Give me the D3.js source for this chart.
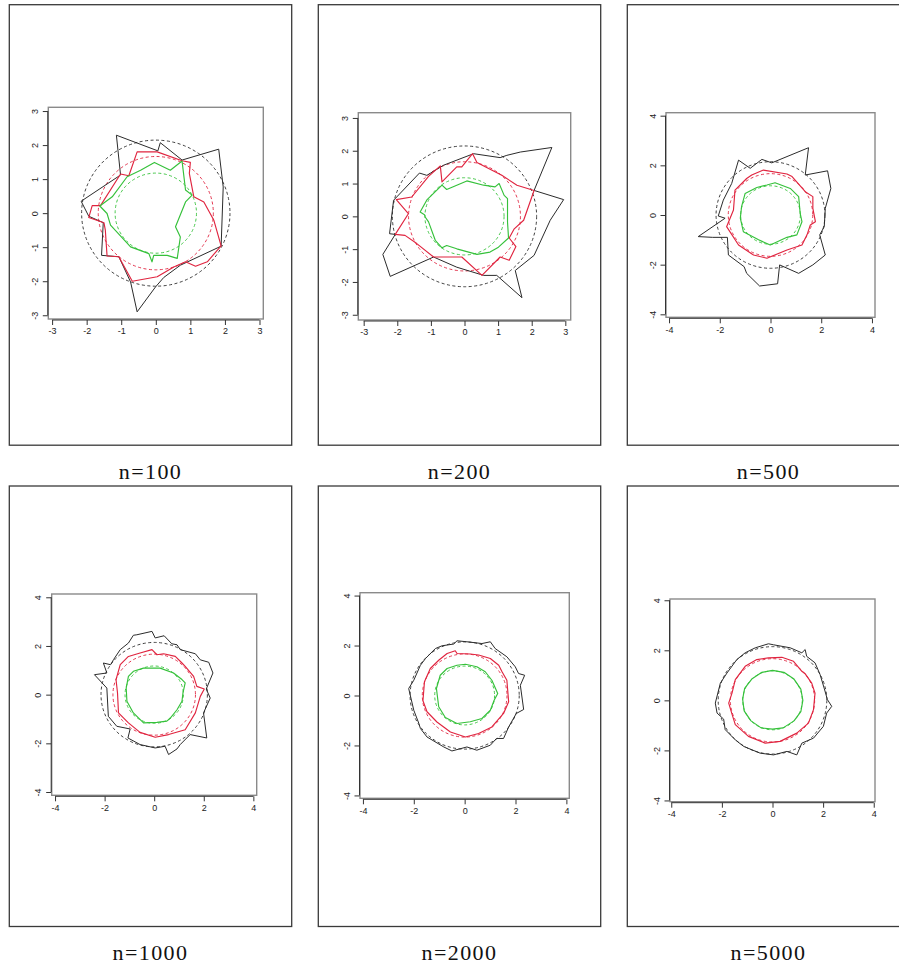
<!DOCTYPE html>
<html>
<head>
<meta charset="utf-8">
<script src="https://cdn.jsdelivr.net/npm/d3@7"></script>
<style>
  html, body { margin: 0; padding: 0; background: #fff; }
  svg { display: block; }
</style>
</head>
<body>
<svg id="chart" width="899" height="969"></svg>
<script>
// Sample sizes, one panel each
const sampleSizes = [100, 200, 500, 1000, 2000, 5000];

// Theoretical contour radii (black, red, green)
const circleRadii = [2.146, 1.665, 1.177];
const seriesColors = ["#2b2b2b", "#e0243f", "#35c13a"];

// Tick values
const ticks3 = [-3, -2, -1, 0, 1, 2, 3];
const ticks4 = [-4, -2, 0, 2, 4];

// Empirical contours, n = 100
const black100 = [[-1.14,2.29],[0.06,1.83],[0.13,2.07],[0.76,1.56],[1.82,1.88],[1.95,0.77],[1.89,-0.97],[0.71,-1.53],[0.23,-1.89],[-0.01,-2.17],[-0.54,-2.90],[-0.73,-2.02],[-1.07,-1.28],[-1.57,-1.24],[-1.52,-0.28],[-1.94,-0.09],[-2.16,0.35],[-1.02,1.12]];
const red100 = [[-0.54,1.80],[0.04,1.80],[0.76,1.54],[1.00,1.49],[0.97,1.17],[1.10,0.48],[1.39,0.33],[1.68,-0.21],[1.89,-0.96],[1.49,-1.43],[1.15,-1.56],[0.86,-1.43],[0.52,-1.58],[0.04,-1.87],[-0.68,-2.00],[-1.07,-1.28],[-1.41,-1.26],[-1.46,-0.50],[-1.50,-0.28],[-1.94,-0.13],[-1.84,0.22],[-1.60,0.22],[-1.02,1.15],[-0.78,1.10]];
const green100 = [[-0.04,1.49],[0.42,1.26],[0.76,1.53],[0.86,0.68],[1.05,0.53],[0.86,0.33],[0.57,-0.40],[0.71,-0.70],[0.62,-1.33],[0.33,-1.24],[-0.06,-1.24],[-0.11,-1.43],[-0.20,-1.19],[-0.73,-0.99],[-1.31,-0.35],[-1.41,-0.01],[-1.62,0.21],[-1.26,0.48],[-0.83,1.07],[-0.44,1.26]];

// n = 200
const black200 = [[2.60,2.10],[2.07,0.79],[2.95,0.51],[2.55,-0.12],[2.07,-1.19],[1.51,-1.65],[1.71,-2.48],[0.96,-1.80],[0.57,-1.80],[-0.23,-1.55],[-0.92,-1.24],[-2.21,-1.83],[-2.43,-1.16],[-2.06,-0.55],[-2.23,-0.53],[-2.11,0.49],[-1.34,1.32],[-1.12,1.25],[-0.62,1.56],[0.27,1.91],[1.06,1.79],[1.26,1.86],[1.66,1.96]];
const red200 = [[0.24,1.91],[0.37,1.64],[1.11,1.25],[1.56,0.95],[2.07,0.79],[1.76,-0.12],[1.48,-0.38],[1.33,-0.66],[1.53,-0.92],[1.33,-1.34],[1.06,-1.24],[0.52,-1.80],[-0.08,-1.24],[-0.53,-1.24],[-0.92,-1.24],[-1.42,-0.83],[-1.77,-0.58],[-2.06,-0.55],[-1.67,0.08],[-2.03,0.51],[-1.57,0.59],[-1.07,1.22],[-0.72,1.54],[-0.67,1.05],[-0.23,1.51],[-0.08,1.51]];
const green200 = [[-1.32,0.13],[-1.12,0.50],[-0.67,0.95],[-0.53,0.82],[0.07,1.08],[0.57,0.95],[0.91,0.90],[1.03,1.00],[1.18,0.64],[1.28,0.54],[1.28,-0.17],[1.31,-0.66],[1.01,-0.94],[0.76,-1.09],[0.37,-1.16],[-0.23,-0.99],[-0.53,-0.89],[-0.67,-0.96],[-0.87,-0.73],[-1.07,-0.17],[-1.17,-0.02],[-1.19,0.05]];

// n = 500
const black500 = [[1.50,2.71],[1.37,1.61],[2.25,1.78],[2.38,1.07],[2.16,0.27],[2.12,-0.47],[1.94,-0.80],[2.16,-1.61],[1.67,-2.01],[1.11,-2.35],[0.36,-2.01],[0.28,-2.77],[-0.43,-2.86],[-0.94,-2.35],[-1.04,-2.08],[-1.66,-1.61],[-1.70,-0.90],[-2.28,-0.90],[-2.85,-0.87],[-1.79,-0.13],[-2.06,-0.04],[-1.86,0.60],[-1.53,1.27],[-1.26,2.21],[-0.80,1.88],[-0.34,2.24],[0.05,2.10]];
const red500 = [[-0.28,1.81],[0.65,1.65],[0.85,1.55],[1.37,0.94],[1.67,0.74],[1.67,0.27],[1.77,-0.27],[1.57,-0.40],[1.44,-0.80],[1.24,-1.21],[0.65,-1.41],[-0.14,-1.74],[-0.67,-1.61],[-1.26,-1.21],[-1.73,-0.47],[-1.46,0.20],[-1.40,1.00],[-0.94,1.47],[-0.74,1.61]];
const green500 = [[0.18,1.30],[0.78,1.07],[1.11,0.74],[1.17,0.07],[1.24,-0.27],[1.04,-0.80],[0.65,-0.90],[-0.01,-1.21],[-0.47,-1.00],[-1.07,-0.67],[-1.19,-0.13],[-1.14,0.34],[-1.00,0.87],[-0.54,1.11],[-0.14,1.21]];

// n = 1000
const black1000 = [[-0.70,2.46],[-0.09,2.60],[0.04,2.33],[0.40,2.42],[0.71,2.09],[0.92,2.05],[1.05,1.85],[1.66,1.68],[1.86,1.43],[2.20,1.33],[2.37,0.89],[2.10,0.23],[2.26,-0.14],[1.99,-0.75],[2.12,-1.78],[1.45,-1.64],[1.05,-2.05],[0.92,-2.23],[0.58,-2.46],[0.44,-2.12],[0.04,-2.19],[-0.57,-2.05],[-1.06,-1.78],[-0.97,-1.41],[-1.51,-1.30],[-1.85,-0.89],[-1.91,0.27],[-2.41,0.82],[-1.91,0.89],[-2.05,1.30],[-1.76,1.23],[-1.64,1.44],[-1.37,1.85],[-1.04,2.12],[-0.84,2.44]];
const red1000 = [[-0.09,1.85],[0.11,1.64],[0.38,1.68],[0.85,1.57],[1.12,1.30],[1.25,1.16],[1.59,0.75],[1.72,0.34],[2.02,0.23],[1.86,-0.07],[1.66,-0.75],[1.25,-1.44],[0.58,-1.64],[0.04,-1.75],[-0.57,-1.55],[-1.04,-1.16],[-1.44,-0.75],[-1.48,0.07],[-1.54,0.62],[-1.37,1.23],[-1.04,1.57],[-0.57,1.71]];
const green1000 = [[-0.43,1.09],[0.24,1.09],[0.78,0.89],[1.12,0.62],[1.25,0.48],[1.16,0.07],[1.12,-0.27],[0.92,-0.62],[0.65,-0.96],[0.51,-1.09],[0.11,-1.14],[-0.43,-1.16],[-0.84,-0.75],[-1.10,-0.27],[-1.13,0.27],[-1.04,0.75],[-0.84,0.96]];

// n = 2000
const black2000 = [[-0.30,2.19],[0.09,2.15],[0.68,2.08],[1.01,2.15],[1.20,1.88],[1.66,1.55],[1.99,1.15],[2.12,0.88],[2.36,0.81],[2.19,0.41],[2.32,-0.56],[2.03,-0.72],[1.73,-1.26],[1.53,-1.72],[1.25,-1.72],[1.01,-1.99],[0.48,-2.19],[0.09,-2.06],[-0.50,-2.22],[-0.82,-2.06],[-1.48,-1.66],[-1.74,-1.32],[-1.80,-1.12],[-2.00,-0.59],[-2.20,0.28],[-2.00,0.61],[-1.74,1.21],[-1.54,1.48],[-1.15,1.88],[-0.89,1.99],[-0.43,2.06]];
const red2000 = [[-0.37,1.79],[-0.30,1.68],[0.22,1.66],[0.55,1.62],[1.01,1.48],[1.34,1.21],[1.47,0.95],[1.66,0.61],[1.73,-0.25],[1.53,-0.72],[1.07,-1.26],[0.55,-1.52],[0.03,-1.66],[-0.56,-1.46],[-1.09,-1.06],[-1.48,-0.65],[-1.64,-0.21],[-1.58,0.55],[-1.35,1.08],[-1.02,1.41],[-0.69,1.68]];
const green2000 = [[-0.30,1.21],[0.03,1.25],[0.48,1.15],[0.81,0.95],[1.07,0.61],[1.30,0.08],[1.16,-0.19],[1.01,-0.59],[0.68,-0.92],[0.22,-1.05],[-0.30,-1.12],[-0.76,-0.88],[-1.02,-0.45],[-1.11,0.28],[-0.96,0.81],[-0.69,1.08]];

// n = 5000
const black5000 = [[-0.16,2.26],[0.04,2.22],[0.70,2.10],[1.16,1.90],[1.29,2.03],[1.35,1.76],[1.68,1.50],[1.88,1.03],[2.04,0.49],[2.17,0.03],[2.34,-0.24],[2.14,-0.51],[2.01,-1.04],[1.62,-1.51],[1.16,-1.71],[0.96,-2.18],[0.57,-2.04],[0.04,-2.18],[-0.49,-2.11],[-1.14,-1.84],[-1.47,-1.58],[-1.87,-1.17],[-1.93,-0.75],[-2.19,-0.51],[-2.26,-0.11],[-2.06,0.69],[-1.80,1.09],[-1.41,1.63],[-1.08,1.90],[-0.68,2.10]];
const red5000 = [[-0.16,1.70],[0.37,1.72],[0.83,1.56],[1.16,1.16],[1.30,1.05],[1.55,0.69],[1.68,0.29],[1.62,-0.37],[1.42,-0.91],[0.96,-1.31],[0.30,-1.64],[-0.29,-1.71],[-0.95,-1.44],[-1.47,-0.97],[-1.60,-0.55],[-1.73,-0.11],[-1.60,0.29],[-1.47,0.83],[-1.08,1.36],[-0.62,1.63]];
const green5000 = [[0.00,1.20],[0.45,1.12],[0.85,0.85],[1.12,0.45],[1.20,0.00],[1.12,-0.45],[0.85,-0.82],[0.42,-1.10],[0.00,-1.15],[-0.45,-1.10],[-0.85,-0.82],[-1.12,-0.42],[-1.18,0.05],[-1.10,0.48],[-0.82,0.85],[-0.42,1.12]];

const contours = [
  [black100, red100, green100],
  [black200, red200, green200],
  [black500, red500, green500],
  [black1000, red1000, green1000],
  [black2000, red2000, green2000],
  [black5000, red5000, green5000]
];
const panelTicks = [ticks3, ticks3, ticks4, ticks4, ticks4, ticks4];

// Panel geometry: outer frame and inner plot box (pixels), box half-extent in data units
const layout = [
  { fx: 9.3,   fy: 4.7, bx0: 48.3,  bx1: 263.3, by0: 107.3, by1: 319.0, lim: 3.11 },
  { fx: 318.3, fy: 4.7, bx0: 358.3, bx1: 570.7, by0: 112.7, by1: 320.0, lim: 3.16 },
  { fx: 627.3, fy: 4.7, bx0: 666.0, bx1: 875.0, by0: 112.7, by1: 317.3, lim: 4.12 },
  { fx: 9.3,   fy: 486, bx0: 51.7,  bx1: 256.7, by0: 594.0, by1: 795.3, lim: 4.135 },
  { fx: 318.3, fy: 486, bx0: 360.0, bx1: 569.3, by0: 592.7, by1: 798.3, lim: 4.115 },
  { fx: 627.3, fy: 486, bx0: 670.0, bx1: 875.0, by0: 599.0, by1: 801.7, lim: 4.05 }
];
const frameW = 282.4, frameH = 440.5;

const svg = d3.select("#chart");

layout.forEach((p, i) => {
  const g = svg.append("g");

  // outer frame
  g.append("rect")
    .attr("x", p.fx).attr("y", p.fy)
    .attr("width", frameW).attr("height", frameH)
    .attr("fill", "none").attr("stroke", "#3a3a3a").attr("stroke-width", 1.3);

  // caption
  g.append("text")
    .attr("x", p.fx + frameW / 2)
    .attr("y", p.fy + frameH + 33.5)
    .attr("text-anchor", "middle")
    .attr("font-family", "Liberation Serif, serif")
    .attr("font-size", 22)
    .attr("letter-spacing", 1.4)
    .attr("fill", "#111")
    .text("n=" + sampleSizes[i]);

  const x = d3.scaleLinear().domain([-p.lim, p.lim]).range([p.bx0, p.bx1]);
  const y = d3.scaleLinear().domain([-p.lim, p.lim]).range([p.by1, p.by0]);
  const ticks = panelTicks[i];

  // dashed reference circles
  circleRadii.forEach((r, k) => {
    g.append("ellipse")
      .attr("cx", x(0)).attr("cy", y(0))
      .attr("rx", x(r) - x(0)).attr("ry", y(0) - y(r))
      .attr("fill", "none")
      .attr("stroke", seriesColors[k])
      .attr("stroke-width", 1)
      .attr("stroke-dasharray", "3,2.5")
      .attr("opacity", 0.9);
  });

  // empirical contours
  const line = d3.line().x(d => x(d[0])).y(d => y(d[1])).curve(d3.curveLinearClosed);
  contours[i].forEach((pts, k) => {
    g.append("path")
      .attr("d", line(pts))
      .attr("fill", "none")
      .attr("stroke", seriesColors[k])
      .attr("stroke-width", k === 0 ? 1 : 1.15)
      .attr("stroke-linejoin", "round");
  });

  // plot box
  g.append("rect")
    .attr("x", p.bx0).attr("y", p.by0)
    .attr("width", p.bx1 - p.bx0).attr("height", p.by1 - p.by0)
    .attr("fill", "none").attr("stroke", "#8a8a8a").attr("stroke-width", 1.4);

  const t0 = ticks[0], t1 = ticks[ticks.length - 1];

  // bottom axis
  const gx = g.append("g")
    .attr("transform", `translate(0,${p.by1 + 1})`)
    .call(d3.axisBottom(x).tickValues(ticks).tickSize(5).tickSizeOuter(0).tickPadding(3));
  gx.select(".domain").attr("d", `M${x(t0)},0H${x(t1)}`).attr("stroke", "#333");
  gx.selectAll(".tick line").attr("stroke", "#333");
  gx.selectAll(".tick text")
    .attr("font-family", "Liberation Sans, Arial, sans-serif")
    .attr("font-size", 9).attr("fill", "#222");

  // left axis with labels parallel to the axis
  const gy = g.append("g")
    .attr("transform", `translate(${p.bx0 - 0.5},0)`)
    .call(d3.axisLeft(y).tickValues(ticks).tickSize(5).tickSizeOuter(0));
  gy.select(".domain").attr("d", `M0,${y(t0)}V${y(t1)}`).attr("stroke", "#333");
  gy.selectAll(".tick line").attr("stroke", "#333");
  gy.selectAll(".tick text")
    .attr("x", null).attr("dy", null)
    .attr("transform", "translate(-13,0) rotate(-90)")
    .attr("text-anchor", "middle")
    .attr("dominant-baseline", "central")
    .attr("font-family", "Liberation Sans, Arial, sans-serif")
    .attr("font-size", 9).attr("fill", "#222");

  // plain hyphen-minus tick labels
  g.selectAll(".tick text").text(d => String(d));
});
</script>
</body>
</html>
